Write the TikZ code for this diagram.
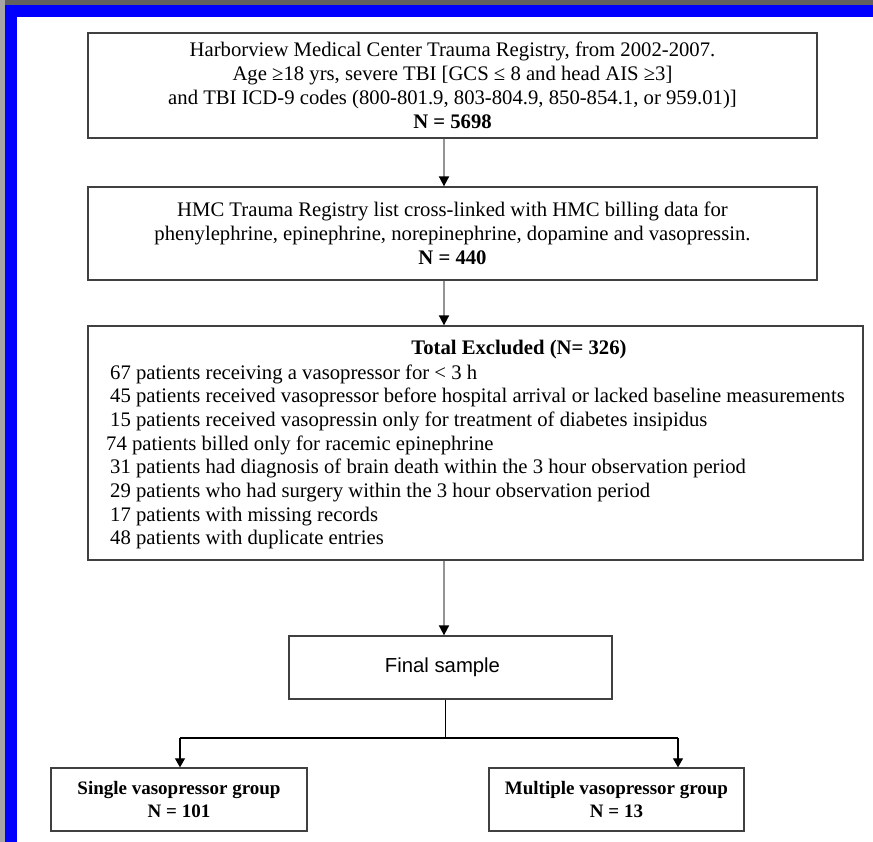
\documentclass[tikz,border=0pt]{standalone}
\usepackage{fontspec}
\setmainfont{Liberation Serif}
\setsansfont{Liberation Sans}
\usepackage{tikz}
\usetikzlibrary{arrows.meta}

\tikzset{
  flowbox/.style={draw=black!75, line width=1.3pt, fill=white, inner sep=0pt},
  bodytext/.style={font=\fontsize{20.7}{24}\selectfont},
  grouptext/.style={font=\fontsize{19}{23}\selectfont\bfseries, align=center},
  spinearrow/.style={draw=black!42, line width=1.8pt, -{Triangle[length=10pt,width=10pt,color=black]}},
  splitarrow/.style={draw=black, line width=1.1pt, -{Triangle[length=9pt,width=10pt]}}
}

\begin{document}
\begin{tikzpicture}[x=1pt,y=-1pt]
    \useasboundingbox (0,0) rectangle (873,842);
    \fill[white] (0,0) rectangle (873,842);
    \fill[black!62] (0,0) rectangle (873,5);
    \fill[black!35] (0,0) rectangle (5,842);
    \fill[blue] (5,5) rectangle (873,17);
    \fill[blue] (5,5) rectangle (17,842);

    \node[flowbox, minimum width=729pt, minimum height=105pt, bodytext, align=center] (registry) at (452.5,85.5)
      {Harborview Medical Center Trauma Registry, from 2002-2007.\\
       Age ≥18 yrs, severe TBI [GCS ≤ 8 and head AIS ≥3]\\
       and TBI ICD-9 codes (800-801.9, 803-804.9, 850-854.1, or 959.01)]\\
       \textbf{N = 5698}};
    \node[flowbox, minimum width=729pt, minimum height=93pt, bodytext, align=center] (billing) at (452.5,233.5)
      {HMC Trauma Registry list cross-linked with HMC billing data for\\
       phenylephrine, epinephrine, norepinephrine, dopamine and vasopressin.\\
       \textbf{N = 440}};
    \node[flowbox, minimum width=775pt, minimum height=234pt] (excluded) at (475.5,443) {};
    \node[bodytext, anchor=base] (exctitle) at (519,355) {\textbf{Total Excluded (N= 326)}};
    \node[bodytext, anchor=base west, inner sep=0pt] (exc1) at (110,379) {67 patients receiving a vasopressor for < 3 h};
    \node[bodytext, anchor=base west, inner sep=0pt] (exc2) at (110,402.7) {45 patients received vasopressor before hospital arrival or lacked baseline measurements};
    \node[bodytext, anchor=base west, inner sep=0pt] (exc3) at (110,426.4) {15 patients received vasopressin only for treatment of diabetes insipidus};
    \node[bodytext, anchor=base west, inner sep=0pt] (exc4) at (106,450.1) {74 patients billed only for racemic epinephrine};
    \node[bodytext, anchor=base west, inner sep=0pt] (exc5) at (110,473.8) {31 patients had diagnosis of brain death within the 3 hour observation period};
    \node[bodytext, anchor=base west, inner sep=0pt] (exc6) at (110,497.5) {29 patients who had surgery within the 3 hour observation period};
    \node[bodytext, anchor=base west, inner sep=0pt] (exc7) at (110,521.2) {17 patients with missing records};
    \node[bodytext, anchor=base west, inner sep=0pt] (exc8) at (110,544.9) {48 patients with duplicate entries};

    \node[flowbox, minimum width=323pt, minimum height=63pt, font=\sffamily\fontsize{20.3}{24}\selectfont] (final) at (450.5,667.5) {\hspace*{-16pt}Final sample};
    \node[flowbox, minimum width=256pt, minimum height=63pt, grouptext] (single) at (179,799.5) {Single vasopressor group\\N = 101};
    \node[flowbox, minimum width=255pt, minimum height=63pt, grouptext] (multiple) at (616.5,799.5) {Multiple vasopressor group\\N = 13};

    \coordinate (spine) at (444,0);
    \draw[spinearrow] (spine |- registry.south) -- (spine |- billing.north);
    \draw[spinearrow] (spine |- billing.south) -- (spine |- excluded.north);
    \draw[spinearrow] (spine |- excluded.south) -- (spine |- final.north);

    \coordinate (split) at (445.5,738);
    \coordinate (leftturn) at (180,738);
    \coordinate (rightturn) at (678,738);
    \draw[black, line width=1.1pt] (split |- final.south) -- (split);
    \draw[black, line width=1.1pt] (leftturn) -- (rightturn);
    \draw[splitarrow] (leftturn) -- (leftturn |- single.north);
    \draw[splitarrow] (rightturn) -- (rightturn |- multiple.north);
\end{tikzpicture}
\end{document}
